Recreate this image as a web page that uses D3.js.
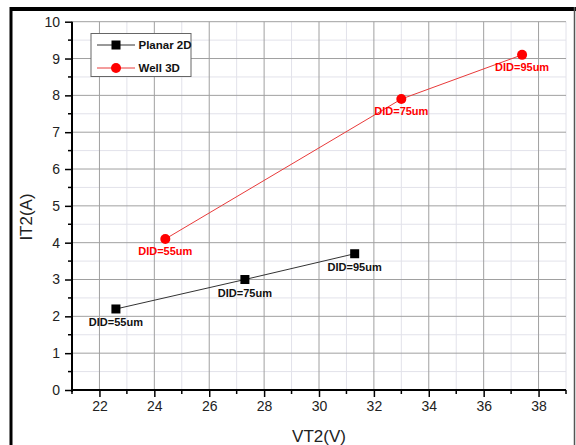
<!DOCTYPE html>
<html>
<head>
<meta charset="utf-8">
<script src="https://cdn.jsdelivr.net/npm/d3@7"></script>
<style>
  html, body { margin: 0; padding: 0; background: #fff; }
  svg { display: block; font-family: Arial, "Liberation Sans", sans-serif; }
</style>
</head>
<body>
<svg id="chart" width="576" height="445"></svg>
<script>
// ---- data ----
const planarX = [22.6, 27.3, 31.3];
const planarY = [2.2, 3.0, 3.7];
const wellX = [24.4, 33.0, 37.4];
const wellY = [4.1, 7.9, 9.1];
const pointLabels = ["DID=55um", "DID=75um", "DID=95um"];
const seriesNames = ["Planar 2D", "Well 3D"];
const xTicks = [22, 24, 26, 28, 30, 32, 34, 36, 38];
const yTicks = [0, 1, 2, 3, 4, 5, 6, 7, 8, 9, 10];
const xTitle = "VT2(V)";
const yTitle = "IT2(A)";

const svg = d3.select("#chart");
const L = 72, R = 566, T = 21.7, B = 390;
const x = d3.scaleLinear().domain([21, 39]).range([L, R]);
const y = d3.scaleLinear().domain([0, 10]).range([B, T]);

// outer frame
svg.append("line").attr("x1", 10).attr("x2", 576).attr("y1", 9).attr("y2", 9)
  .attr("stroke", "#000").attr("stroke-width", 4);
svg.append("line").attr("x1", 11).attr("x2", 11).attr("y1", 7).attr("y2", 445)
  .attr("stroke", "#000").attr("stroke-width", 3);
svg.append("line").attr("x1", 574.5).attr("x2", 574.5).attr("y1", 7).attr("y2", 445)
  .attr("stroke", "#555").attr("stroke-width", 1.5);

// grid
const xMinor = d3.range(21, 39.01, 1).filter(v => !xTicks.includes(v));
const yMinor = d3.range(0.5, 10, 1);
const grid = svg.append("g");
grid.selectAll(".xmin").data(xMinor).join("line")
  .attr("x1", d => x(d)).attr("x2", d => x(d)).attr("y1", T).attr("y2", B)
  .attr("stroke", "#e2e2ea").attr("stroke-width", 1);
grid.selectAll(".ymin").data(yMinor).join("line")
  .attr("x1", L).attr("x2", R).attr("y1", d => y(d)).attr("y2", d => y(d))
  .attr("stroke", "#e2e2ea").attr("stroke-width", 1);
grid.selectAll(".xmaj").data(xTicks).join("line")
  .attr("x1", d => x(d)).attr("x2", d => x(d)).attr("y1", T).attr("y2", B)
  .attr("stroke", "#a0a0a0").attr("stroke-width", 1);
grid.selectAll(".ymaj").data(yTicks.filter(v => v > 0)).join("line")
  .attr("x1", L).attr("x2", R).attr("y1", d => y(d)).attr("y2", d => y(d))
  .attr("stroke", "#a0a0a0").attr("stroke-width", 1);

// axes
const xAxis = d3.axisBottom(x).tickValues(xTicks).tickSize(7).tickPadding(4).tickFormat(d3.format("d"));
const gx = svg.append("g").attr("transform", `translate(0,${B})`).call(xAxis);
gx.append("g").selectAll("line").data(xMinor).join("line")
  .attr("x1", d => x(d)).attr("x2", d => x(d)).attr("y1", 0).attr("y2", 4)
  .attr("stroke", "#000").attr("stroke-width", 1.5);
const yAxis = d3.axisLeft(y).tickValues(yTicks).tickSize(7).tickPadding(5).tickFormat(d3.format("d"));
const gy = svg.append("g").attr("transform", `translate(${L},0)`).call(yAxis);
gy.append("g").selectAll("line").data(yMinor).join("line")
  .attr("x1", 0).attr("x2", -4).attr("y1", d => y(d)).attr("y2", d => y(d))
  .attr("stroke", "#000").attr("stroke-width", 1.5);
[gx, gy].forEach(g => {
  g.select(".domain").attr("stroke", "#000").attr("stroke-width", 2);
  g.selectAll(".tick line").attr("stroke", "#000").attr("stroke-width", 1.5);
  g.selectAll(".tick text").attr("font-size", 14).attr("fill", "#222")
    .attr("font-family", "Arial, 'Liberation Sans', sans-serif");
});
gx.select(".domain").attr("d", `M${L},0H${R}`);
gy.select(".domain").attr("d", `M0,${B + 2}V${T}`);

// axis titles
svg.append("text").attr("x", (L + R) / 2).attr("y", 442).attr("text-anchor", "middle")
  .attr("font-size", 17).attr("fill", "#222").text(xTitle);
svg.append("text").attr("transform", `translate(32,217) rotate(-90)`).attr("text-anchor", "middle")
  .attr("font-size", 17).attr("fill", "#222").text(yTitle);

// series
const planar = planarX.map((v, i) => ({ x: v, y: planarY[i], label: pointLabels[i] }));
const well = wellX.map((v, i) => ({ x: v, y: wellY[i], label: pointLabels[i] }));
const line = d3.line().x(d => x(d.x)).y(d => y(d.y));

svg.append("path").datum(planar).attr("d", line).attr("fill", "none")
  .attr("stroke", "#333").attr("stroke-width", 1);
svg.append("path").datum(well).attr("d", line).attr("fill", "none")
  .attr("stroke", "#e83a3a").attr("stroke-width", 1);

const sq = 9;
svg.selectAll(".sq").data(planar).join("rect")
  .attr("x", d => x(d.x) - sq / 2).attr("y", d => y(d.y) - sq / 2)
  .attr("width", sq).attr("height", sq).attr("fill", "#000");
svg.selectAll(".ci").data(well).join("circle")
  .attr("cx", d => x(d.x)).attr("cy", d => y(d.y)).attr("r", 5).attr("fill", "#ff0000");

svg.selectAll(".pl").data(planar).join("text")
  .attr("x", d => x(d.x)).attr("y", d => y(d.y) + 17).attr("text-anchor", "middle")
  .attr("font-size", 11).attr("font-weight", "bold").attr("fill", "#111").text(d => d.label);
svg.selectAll(".wl").data(well).join("text")
  .attr("x", d => x(d.x)).attr("y", d => y(d.y) + 16).attr("text-anchor", "middle")
  .attr("font-size", 11).attr("font-weight", "bold").attr("fill", "#ff0000").text(d => d.label);

// legend
const lg = svg.append("g");
lg.append("rect").attr("x", 91).attr("y", 33.5).attr("width", 100).attr("height", 43)
  .attr("fill", "#fff").attr("stroke", "#666").attr("stroke-width", 1);
const legendItems = [
  { name: seriesNames[0], color: "#333", mark: "sq", yy: 45 },
  { name: seriesNames[1], color: "#e83a3a", mark: "ci", yy: 68 }
];
legendItems.forEach(it => {
  lg.append("line").attr("x1", 97).attr("x2", 135).attr("y1", it.yy).attr("y2", it.yy)
    .attr("stroke", it.color).attr("stroke-width", 1);
  if (it.mark === "sq") {
    lg.append("rect").attr("x", 116 - sq / 2).attr("y", it.yy - sq / 2).attr("width", sq).attr("height", sq).attr("fill", "#000");
  } else {
    lg.append("circle").attr("cx", 116).attr("cy", it.yy).attr("r", 5).attr("fill", "#ff0000");
  }
  lg.append("text").attr("x", 138.5).attr("y", it.yy + 4).attr("font-size", 11.5)
    .attr("font-weight", "bold").attr("fill", "#111").text(it.name);
});
</script>
</body>
</html>
